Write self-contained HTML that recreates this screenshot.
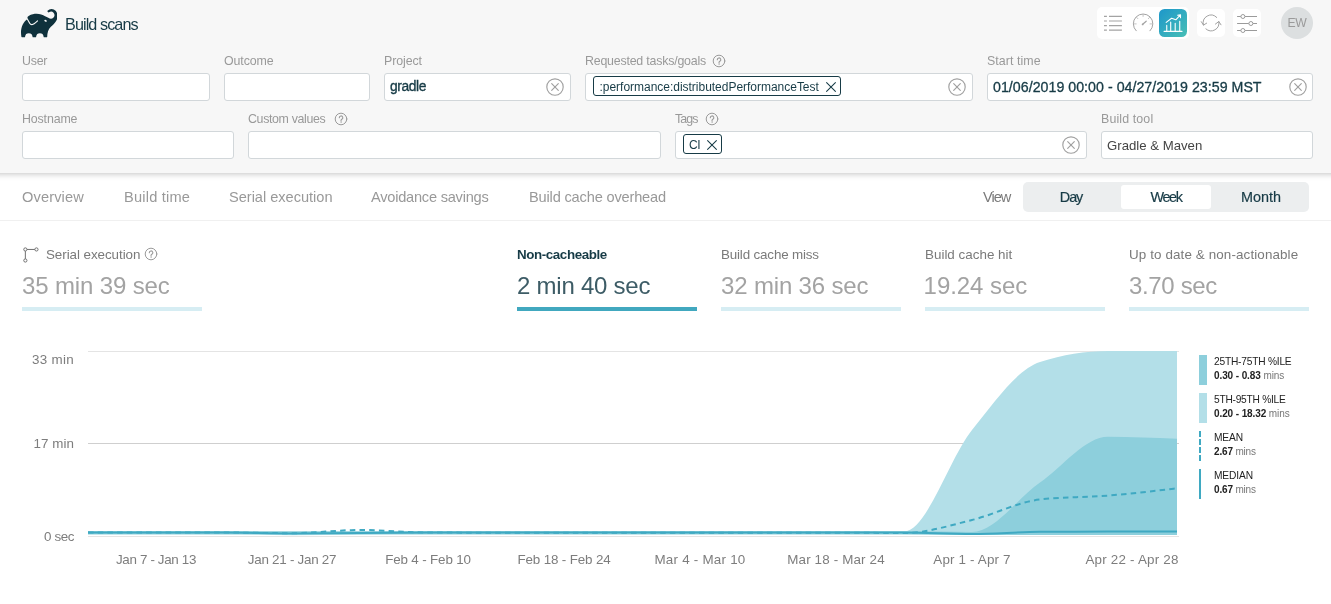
<!DOCTYPE html>
<html lang="en">
<head>
<meta charset="utf-8">
<title>Build scans</title>
<style>
*{box-sizing:border-box;margin:0;padding:0}
html,body{width:1331px;height:604px;overflow:hidden;background:#fff}
body{font-family:"Liberation Sans",sans-serif;color:#02303a;position:relative}
.abs{position:absolute}
#hbg{position:absolute;left:-20px;top:-20px;width:1371px;height:193px;background:#f7f7f7;box-shadow:0 1px 6px rgba(0,0,0,.24)}
#header{position:absolute;left:0;top:0;width:1331px;height:173px}
#title{position:absolute;left:65px;top:13.600px;font-size:16.200px;line-height:20px;color:#173b46;letter-spacing:-.92px}
.lbl{position:absolute;font-size:12.4px;line-height:14px;color:#999;white-space:nowrap;letter-spacing:-.1px}
.inp{position:absolute;height:28px;background:#fff;border:1px solid #d2d7da;border-radius:3px}
.val{position:absolute;font-size:13.2px;line-height:16px;color:#173b46;white-space:nowrap}
.clr{position:absolute;width:18px;height:18px}
.help{position:absolute;width:13px;height:13px}
.chip{position:absolute;height:19.5px;border:1px solid #173b46;border-radius:3px;background:#fff}
.chip span{position:absolute;top:2.8px;font-size:12px;line-height:14px;color:#173b46;white-space:nowrap}
.tab{position:absolute;top:188px;font-size:14.6px;line-height:18px;color:#999;white-space:nowrap}
#tabline{position:absolute;left:0;top:220px;width:1331px;height:1px;background:#f0f0f0}
#toggle{position:absolute;left:1023px;top:182.300px;width:286px;height:29.500px;background:#eceeef;border-radius:5px}
#toggle .sel{position:absolute;left:98px;top:2.700px;width:90px;height:24px;background:#fff;border-radius:3px}
#toggle span{position:absolute;top:6.700px;-webkit-text-stroke:.200px #173b46;font-size:14.4px;line-height:16px;color:#173b46;text-align:center;width:90px}
.m-l{position:absolute;top:247px;font-size:13.4px;line-height:16px;color:#7a7a7a;white-space:nowrap}
.m-v{position:absolute;top:270.500px;font-size:24px;line-height:30px;color:#a3a3a3;white-space:nowrap;letter-spacing:-.3px}
.m-b{position:absolute;top:307.200px;width:180px;height:3.600px;background:#d6edf3}
.ax{font-size:13.4px;fill:#7d7d7d;font-family:"Liberation Sans",sans-serif}
.lg-t{position:absolute;left:1214px;font-size:10.2px;line-height:12px;margin-top:-.2px;color:#222;white-space:nowrap}
.lg-v{position:absolute;left:1214px;font-size:10px;line-height:12px;margin-top:.4px;color:#777;white-space:nowrap}
.lg-v b{color:#222}
</style>
</head>
<body>
<div id="hbg"></div>
<div id="header">
  <svg class="abs" style="left:20.500px;top:4.350px" width="36.600" height="38.330" viewBox="0 0 24 24" preserveAspectRatio="none">
    <path fill="#0f313c" d="M22.695 4.297a3.807 3.807 0 0 0-5.290-.090.368.368 0 0 0 0 .533l.460.470a.363.363 0 0 0 .474.032 2.182 2.182 0 0 1 2.860 3.291c-3.023 3.020-7.056-5.447-16.211-1.083a1.240 1.240 0 0 0-.534 1.745l1.571 2.713a1.238 1.238 0 0 0 1.681.461l.037-.020-.029.020.688-.384a16.083 16.083 0 0 0 2.193-1.635.384.384 0 0 1 .499-.016.357.357 0 0 1 .016.534 16.435 16.435 0 0 1-2.316 1.741H8.770l-.696.390a1.958 1.958 0 0 1-.963.250 1.987 1.987 0 0 1-1.726-.989L3.900 9.696C1.060 11.720-.686 15.603.260 20.522a.363.363 0 0 0 .354.296h1.675a.363.363 0 0 0 .370-.331 2.478 2.478 0 0 1 4.915 0 .360.360 0 0 0 .357.317h1.638a.363.363 0 0 0 .357-.317 2.478 2.478 0 0 1 4.914 0 .363.363 0 0 0 .358.317h1.627a.363.363 0 0 0 .363-.357c.037-2.294.656-4.930 2.420-6.250 6.108-4.570 4.502-8.486 3.088-9.900zm-6.229 6.901l-1.165-.584a.730.730 0 1 1 1.165.587z"/>
  </svg>
  <div id="title">Build scans</div>

  <!-- toolbar -->
  <div class="abs" style="left:1097px;top:7px;width:92px;height:32px;background:#fff;border-radius:5px"></div>
  <div class="abs" style="left:1159px;top:9px;width:28px;height:28px;border-radius:5.500px;background:linear-gradient(135deg,#1d97ca 0%,#48bfb6 100%)"></div>
  <div class="abs" style="left:1197px;top:9px;width:28px;height:28px;border-radius:5px;background:#fff"></div>
  <div class="abs" style="left:1233px;top:9px;width:28px;height:28px;border-radius:5px;background:#fff"></div>
  <div class="abs" style="left:1281px;top:7px;width:32px;height:32px;border-radius:16px;background:#dcdfe0;color:#9a9a9a;font-size:12.200px;line-height:32px;text-align:center;letter-spacing:-.3px">EW</div>
  <svg class="abs" style="left:1097px;top:7px" width="170" height="32" viewBox="0 0 170 32" fill="none" stroke="#9b9b9b" stroke-width="1" stroke-linecap="butt">
    <g stroke="#a3a3a3" stroke-width="1.100">
      <path d="M7 9.400h2.900M12 9.400h12.900M7 14h2.900M12 14h12.900M7 18.600h2.900M12 18.600h12.900M7 23.100h2.900M12 23.100h12.900"/>
    </g>
    <g stroke="#a3a3a3" stroke-width="1" stroke-linecap="round">
      <path d="M39.200 23.800A9.800 9.800 0 1 1 53 23.800"/>
      <path d="M46.100 7.600v1.800M36.800 16.900h2.400M53 16.900h2.400M39.600 10.400l1.300 1.300M52.600 10.400l-1.300 1.300" stroke-width=".800" stroke="#b5b5b5"/>
      <path d="M45.700 17.300l3.500-3.100" stroke-width="1.200"/><circle cx="45.600" cy="17.400" r=".900" fill="#a3a3a3" stroke="none"/>
    </g>
    <g stroke="#fff" stroke-width="1.100" stroke-linecap="round" stroke-linejoin="round">
      <path d="M67.100 24.400h17.900M69.750 24v-5.600M73.700 24v-9M78.200 24v-7.800M82.750 24v-9.700"/>
      <path d="M69.200 15.400l5.400-4.100 4.200 1.500 4.400-4.700M80.600 8.200l2.900-.5v3"/>
    </g>
    <g stroke="#a3a3a3" stroke-width="1" stroke-linecap="round" stroke-linejoin="round">
      <path d="M106.450 18.100A7.900 7.900 0 0 1 119.730 10.460M121.820 14.510A7.900 7.900 0 0 1 108.870 21.910"/>
      <path d="M104.300 14.700l2.150 3.400 3.200-1.950M118.400 17.100l3.420-2.600 2.180 3.300"/>
    </g>
    <g stroke="#9b9b9b" stroke-width="1">
      <path d="M140.100 9.500h3.700M148 9.500h12M140.100 16.500h11.700M156 16.500h4M140.100 23.500h3.700M148 23.500h12"/>
      <circle cx="145.900" cy="9.500" r="2"/><circle cx="153.900" cy="16.500" r="2"/><circle cx="145.900" cy="23.500" r="2"/>
    </g>
  </svg>

  <!-- row 1 -->
  <div class="lbl" style="left:22px;top:54px;letter-spacing:-0.22px">User</div>
  <div class="inp" style="left:22px;top:73px;width:188px"></div>
  <div class="lbl" style="left:224px;top:54px;letter-spacing:-0.10px">Outcome</div>
  <div class="inp" style="left:224px;top:73px;width:146px"></div>
  <div class="lbl" style="left:384px;top:54px;letter-spacing:-0.10px">Project</div>
  <div class="inp" style="left:384px;top:73px;width:187px"></div>
  <div class="val" style="left:390px;top:78.500px;font-size:13.800px;-webkit-text-stroke:.350px #173b46;letter-spacing:-0.40px">gradle</div>
  <div class="lbl" style="left:585px;top:54px;letter-spacing:-0.21px">Requested tasks/goals</div>
  <div class="inp" style="left:585px;top:73px;width:388px"></div>
  <div class="chip" style="left:593px;top:76px;width:248px"><span style="left:5.500px;letter-spacing:-0.02px">:performance:distributedPerformanceTest</span></div>
  <div class="lbl" style="left:987px;top:54px;letter-spacing:0.06px">Start time</div>
  <div class="inp" style="left:987px;top:73px;width:326px"></div>
  <div class="val" style="left:993px;top:78.500px;font-size:14.200px;-webkit-text-stroke:.300px #173b46;letter-spacing:0.03px">01/06/2019 00:00 - 04/27/2019 23:59 MST</div>

  <!-- row 2 -->
  <div class="lbl" style="left:22px;top:112px;letter-spacing:-0.14px">Hostname</div>
  <div class="inp" style="left:22px;top:131px;width:212px"></div>
  <div class="lbl" style="left:248px;top:112px;letter-spacing:-0.35px">Custom values</div>
  <div class="inp" style="left:248px;top:131px;width:413px"></div>
  <div class="lbl" style="left:675px;top:112px;letter-spacing:-0.91px">Tags</div>
  <div class="inp" style="left:675px;top:131px;width:412px"></div>
  <div class="chip" style="left:683px;top:134px;width:39px"><span style="left:5px;letter-spacing:-0.5px">CI</span></div>
  <div class="lbl" style="left:1101px;top:112px;letter-spacing:0.13px">Build tool</div>
  <div class="inp" style="left:1101px;top:131px;width:212px"></div>
  <div class="val" style="left:1107px;top:137.500px;color:#444;letter-spacing:0.00px">Gradle &amp; Maven</div>
  <!-- icons -->
  <svg class="abs" style="left:712px;top:54px" width="14" height="14" viewBox="0 0 14 14" fill="none" stroke="#9a9a9a" stroke-width="1" stroke-linecap="round"><circle cx="7" cy="7" r="5.800"/><path d="M5.300 5.700a1.750 1.750 0 1 1 2.600 1.500c-.600.350-.900.700-.900 1.300" stroke-width="1.100"/><circle cx="7" cy="10" r=".350" fill="#9a9a9a" stroke-width=".500"/></svg>
  <svg class="abs" style="left:334px;top:112px" width="14" height="14" viewBox="0 0 14 14" fill="none" stroke="#9a9a9a" stroke-width="1" stroke-linecap="round"><circle cx="7" cy="7" r="5.800"/><path d="M5.300 5.700a1.750 1.750 0 1 1 2.600 1.500c-.600.350-.900.700-.900 1.300" stroke-width="1.100"/><circle cx="7" cy="10" r=".350" fill="#9a9a9a" stroke-width=".500"/></svg>
  <svg class="abs" style="left:705px;top:112px" width="14" height="14" viewBox="0 0 14 14" fill="none" stroke="#9a9a9a" stroke-width="1" stroke-linecap="round"><circle cx="7" cy="7" r="5.800"/><path d="M5.300 5.700a1.750 1.750 0 1 1 2.600 1.500c-.600.350-.900.700-.900 1.300" stroke-width="1.100"/><circle cx="7" cy="10" r=".350" fill="#9a9a9a" stroke-width=".500"/></svg>
  <svg class="abs" style="left:544.7px;top:76.7px" width="20" height="20" viewBox="0 0 20 20" fill="none" stroke="#a0a0a0" stroke-width="1.150" stroke-linecap="round"><circle cx="10" cy="10" r="8.200"/><path d="M6.700 6.700l6.600 6.600M13.300 6.700l-6.600 6.600"/></svg>
  <svg class="abs" style="left:947px;top:76.5px" width="20" height="20" viewBox="0 0 20 20" fill="none" stroke="#a0a0a0" stroke-width="1.150" stroke-linecap="round"><circle cx="10" cy="10" r="8.200"/><path d="M6.700 6.700l6.600 6.600M13.300 6.700l-6.600 6.600"/></svg>
  <svg class="abs" style="left:1287.8px;top:76.7px" width="20" height="20" viewBox="0 0 20 20" fill="none" stroke="#a0a0a0" stroke-width="1.150" stroke-linecap="round"><circle cx="10" cy="10" r="8.200"/><path d="M6.700 6.700l6.600 6.600M13.300 6.700l-6.600 6.600"/></svg>
  <svg class="abs" style="left:1061px;top:135px" width="20" height="20" viewBox="0 0 20 20" fill="none" stroke="#a0a0a0" stroke-width="1.150" stroke-linecap="round"><circle cx="10" cy="10" r="8.200"/><path d="M6.700 6.700l6.600 6.600M13.300 6.700l-6.600 6.600"/></svg>
  <svg class="abs" style="left:825px;top:80.6px" width="12" height="12" viewBox="0 0 12 12" fill="none" stroke="#173b46" stroke-width="1.050" stroke-linecap="round"><path d="M1.600 1.600l8.800 8.800M10.400 1.600l-8.800 8.800"/></svg>
  <svg class="abs" style="left:705.7px;top:138.6px" width="12" height="12" viewBox="0 0 12 12" fill="none" stroke="#173b46" stroke-width="1.050" stroke-linecap="round"><path d="M1.600 1.600l8.800 8.800M10.400 1.600l-8.800 8.800"/></svg>
</div>

<!-- tabs -->
<div class="tab" style="left:22px;letter-spacing:0.13px">Overview</div>
<div class="tab" style="left:124px;letter-spacing:0.20px">Build time</div>
<div class="tab" style="left:229px;letter-spacing:-0.02px">Serial execution</div>
<div class="tab" style="left:371px;letter-spacing:-0.23px">Avoidance savings</div>
<div class="tab" style="left:529px;letter-spacing:-0.17px">Build cache overhead</div>
<div class="tab" style="color:#7a7a7a;left:983px;letter-spacing:-1.00px">View</div>
<div id="toggle"><div class="sel"></div><span style="left:3px;letter-spacing:-1.10px">Day</span><span style="left:98px;letter-spacing:-1.33px">Week</span><span style="left:193px;letter-spacing:0.00px">Month</span></div>
<div id="tabline"></div>

<!-- metrics -->
<svg class="abs" style="left:20px;top:244px" width="22" height="22" viewBox="0 0 22 22" fill="none" stroke="#707070" stroke-width="1"><circle cx="5.350" cy="5.450" r="1.600"/><circle cx="16.450" cy="5.450" r="1.600"/><circle cx="5.350" cy="16.500" r="1.600"/><path d="M6.950 5.450h7.900M5.350 7.050v7.850"/></svg>
<svg class="abs" style="left:143.5px;top:247.2px" width="14" height="14" viewBox="0 0 14 14" fill="none" stroke="#9a9a9a" stroke-width="1" stroke-linecap="round"><circle cx="7" cy="7" r="5.800"/><path d="M5.300 5.700a1.750 1.750 0 1 1 2.600 1.500c-.600.350-.900.700-.900 1.300" stroke-width="1.100"/><circle cx="7" cy="10" r=".350" fill="#9a9a9a" stroke-width=".500"/></svg>
<div class="m-l" style="left:46px;letter-spacing:-0.06px">Serial execution</div>
<div class="m-v" style="left:22px;letter-spacing:-0.14px">35 min 39 sec</div>
<div class="m-b" style="left:22px"></div>
<div class="m-l" style="left:517px;color:#173b46;font-weight:bold;letter-spacing:-0.42px">Non-cacheable</div>
<div class="m-v" style="left:517px;color:#3d5c66;letter-spacing:-0.24px">2 min 40 sec</div>
<div class="m-b" style="left:517px;background:#41a8bf"></div>
<div class="m-l" style="left:721px;letter-spacing:-0.16px">Build cache miss</div>
<div class="m-v" style="left:721px;letter-spacing:-0.16px">32 min 36 sec</div>
<div class="m-b" style="left:721px"></div>
<div class="m-l" style="left:925px;letter-spacing:0.01px">Build cache hit</div>
<div class="m-v" style="left:923.6px;letter-spacing:-0.05px">19.24 sec</div>
<div class="m-b" style="left:925px"></div>
<div class="m-l" style="left:1129px;letter-spacing:0.12px">Up to date &amp; non-actionable</div>
<div class="m-v" style="left:1129px;letter-spacing:-0.34px">3.70 sec</div>
<div class="m-b" style="left:1129px"></div>

<!-- chart -->
<svg class="abs" style="left:0;top:330px" width="1331" height="274" viewBox="0 330 1331 274">
  <g stroke="#e4e4e4" stroke-width="1">
    <path d="M88 351.500H1179M88 536.500H1179"/>
    <path d="M88 443.500H1179" stroke="#cfcfcf"/>
  </g>
<!--CHART-->
  <path d="M88 531C110.7 531 133.3 531 156 531C178.7 531 201.3 531 224 531C246.7 531 269.3 531.8 292 531.8C314.7 531.8 337.3 531.5 360 531.4C382.7 531.3 405.3 531 428 531C450.7 531 473.3 531 496 531C518.7 531 541.3 531 564 531C586.7 531 609.3 531 632 531C654.7 531 677.3 531 700 531C722.7 531 745.3 531 768 531C790.7 531 813.3 531 836 531C858.7 531 881.3 531.5 904 531.5C926.7 531.5 949.3 458.2 972 430C994.7 401.8 1017.3 369.3 1040 362C1062.7 354.7 1085.3 351 1108 351C1131 351 1154 351 1177 351L1177 534.5C1154 534.5 1131 534.5 1108 534.5C1085.3 534.5 1062.7 534.5 1040 534.5C1017.3 534.5 994.7 534.5 972 534.5C949.3 534.5 926.7 534.5 904 534.5C881.3 534.5 858.7 534.5 836 534.5C813.3 534.5 790.7 534.5 768 534.5C745.3 534.5 722.7 534.5 700 534.5C677.3 534.5 654.7 534.5 632 534.5C609.3 534.5 586.7 534.5 564 534.5C541.3 534.5 518.7 534.5 496 534.5C473.3 534.5 450.7 534.5 428 534.5C405.3 534.5 382.7 534.7 360 534.8C337.3 534.9 314.7 535.2 292 535.2C269.3 535.2 246.7 534.5 224 534.5C201.3 534.5 178.7 534.5 156 534.5C133.3 534.5 110.7 534.5 88 534.5Z" fill="#b3dfe8"/>
  <path d="M88 531.3C110.7 531.3 133.3 531.3 156 531.3C178.7 531.3 201.3 531.3 224 531.3C246.7 531.3 269.3 531.3 292 531.3C314.7 531.3 337.3 531.3 360 531.3C382.7 531.3 405.3 531.3 428 531.3C450.7 531.3 473.3 531.3 496 531.3C518.7 531.3 541.3 531.3 564 531.3C586.7 531.3 609.3 531.3 632 531.3C654.7 531.3 677.3 531.3 700 531.3C722.7 531.3 745.3 531.3 768 531.3C790.7 531.3 813.3 531.3 836 531.3C858.7 531.3 881.3 531.3 904 531.3C926.7 531.3 949.3 532 972 532C994.7 532 1017.3 498.5 1040 482.6C1062.7 466.7 1085.3 436.8 1108 436.8C1131 436.8 1154 437.8 1177 438.8L1177 535C1154 535 1131 535 1108 535C1085.3 535 1062.7 535 1040 535C1017.3 535 994.7 535 972 535C949.3 535 926.7 534.2 904 534.2C881.3 534.2 858.7 534.2 836 534.2C813.3 534.2 790.7 534.2 768 534.2C745.3 534.2 722.7 534.2 700 534.2C677.3 534.2 654.7 534.2 632 534.2C609.3 534.2 586.7 534.2 564 534.2C541.3 534.2 518.7 534.2 496 534.2C473.3 534.2 450.7 534.2 428 534.2C405.3 534.2 382.7 534.2 360 534.2C337.3 534.2 314.7 534.2 292 534.2C269.3 534.2 246.7 534.2 224 534.2C201.3 534.2 178.7 534.2 156 534.2C133.3 534.2 110.7 534.2 88 534.2Z" fill="#8dcfdc"/>
  <path d="M88 532.6C110.7 532.6 133.3 532.6 156 532.6C178.7 532.6 201.3 532.6 224 532.6C246.7 532.6 269.3 533.5 292 533.5C314.7 533.5 337.3 533.1 360 533C382.7 532.9 405.3 532.6 428 532.6C450.7 532.6 473.3 532.6 496 532.6C518.7 532.6 541.3 532.6 564 532.6C586.7 532.6 609.3 532.6 632 532.6C654.7 532.6 677.3 532.6 700 532.6C722.7 532.6 745.3 532.6 768 532.6C790.7 532.6 813.3 532.6 836 532.6C858.7 532.6 881.3 532.6 904 532.6C926.7 532.6 949.3 534 972 534C994.7 534 1017.3 531.9 1040 531.8C1062.7 531.7 1085.3 531.6 1108 531.6C1131 531.6 1154 531.6 1177 531.6" fill="none" stroke="#3fa9c2" stroke-width="2"/>
  <path d="M88 532.5C110.7 532.5 133.3 532.5 156 532.5C178.7 532.5 201.3 532.5 224 532.5C246.7 532.5 269.3 533.2 292 533.2C314.7 533.2 337.3 530 360 530C382.7 530 405.3 532.4 428 532.5C450.7 532.6 473.3 532.7 496 532.7C518.7 532.7 541.3 532.7 564 532.7C586.7 532.7 609.3 532.7 632 532.7C654.7 532.7 677.3 532.7 700 532.7C722.7 532.7 745.3 532.7 768 532.7C790.7 532.7 813.3 532.7 836 532.7C858.7 532.7 881.3 533 904 533C926.7 533 949.3 525.6 972 520C994.7 514.4 1017.3 502.1 1040 499.5C1062.7 496.9 1085.3 497.4 1108 495.6C1131 493.7 1154 491 1177 488.3" fill="none" stroke="#3fa9c2" stroke-width="2" stroke-dasharray="5.5 4.2"/>
<!--/CHART-->
  <text class="ax" x="74" y="364" text-anchor="end" style="letter-spacing:0.32px">33 min</text>
  <text class="ax" x="74" y="448" text-anchor="end" style="letter-spacing:0.04px">17 min</text>
  <text class="ax" x="74" y="541" text-anchor="end" style="letter-spacing:-0.41px">0 sec</text>
  <g class="ax" text-anchor="middle">
    <text x="156" y="564" style="letter-spacing:-0.35px">Jan 7 - Jan 13</text>
    <text x="292" y="564" style="letter-spacing:-0.26px">Jan 21 - Jan 27</text>
    <text x="428" y="564" style="letter-spacing:-0.15px">Feb 4 - Feb 10</text>
    <text x="564" y="564" style="letter-spacing:-0.14px">Feb 18 - Feb 24</text>
    <text x="700" y="564" style="letter-spacing:0.23px">Mar 4 - Mar 10</text>
    <text x="836" y="564" style="letter-spacing:0.15px">Mar 18 - Mar 24</text>
    <text x="972" y="564" style="letter-spacing:0.16px">Apr 1 - Apr 7</text>
    <text x="1132" y="564" style="letter-spacing:0.21px">Apr 22 - Apr 28</text>
  </g>
</svg>

<!-- legend -->
<div class="abs" style="left:1199px;top:355px;width:8px;height:30px;background:#8dcfdc"></div>
<div class="lg-t" style="top:356px;letter-spacing:-0.21px">25TH-75TH %ILE</div>
<div class="lg-v" style="top:370px;letter-spacing:-0.10px"><b>0.30 - 0.83</b> mins</div>
<div class="abs" style="left:1199px;top:393px;width:8px;height:30px;background:#b3dfe8"></div>
<div class="lg-t" style="top:394px;letter-spacing:-0.25px">5TH-95TH %ILE</div>
<div class="lg-v" style="top:408px;letter-spacing:-0.10px"><b>0.20 - 18.32</b> mins</div>
<div class="abs" style="left:1199px;top:431px;width:0;height:30px;border-left:2px dashed #3fa9c2"></div>
<div class="lg-t" style="top:432px;letter-spacing:-0.13px">MEAN</div>
<div class="lg-v" style="top:446px;letter-spacing:-0.17px"><b>2.67</b> mins</div>
<div class="abs" style="left:1199px;top:469px;width:2px;height:30px;background:#3fa9c2"></div>
<div class="lg-t" style="top:470px;letter-spacing:-0.12px">MEDIAN</div>
<div class="lg-v" style="top:484px;letter-spacing:-0.17px"><b>0.67</b> mins</div>
</body>
</html>
